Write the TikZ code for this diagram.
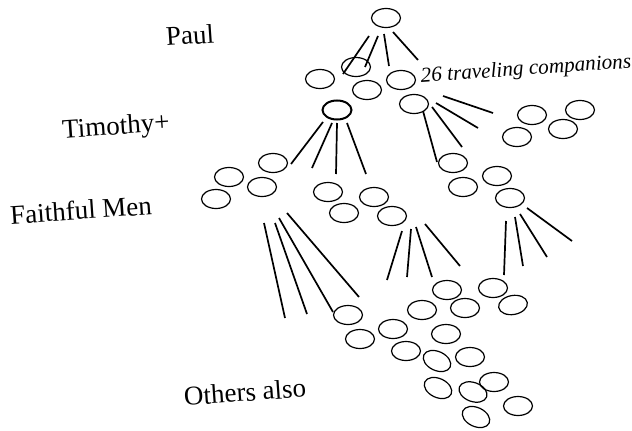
\documentclass[tikz,border=0pt]{standalone}
\usepackage{fontspec}
\setmainfont{Liberation Serif}
\usetikzlibrary{shapes.geometric}

\begin{document}
\begin{tikzpicture}[x=1pt,y=-1pt,
	pod/.style={ellipse,draw,line width=1.2pt,minimum width=29pt,minimum height=19pt,inner sep=0pt},
	lead/.style={pod,line width=2pt},
	spoke/.style={line width=1.7pt},
	level/.style={font=\fontsize{27}{32}\selectfont,rotate=4}]
	\useasboundingbox (0,0) rectangle (632,431);
	% labels
	\node[level] (lpaul) at (190,35) {Paul};
	\node[level] (ltim) at (116,128) {Timothy+};
	\node[level] (lfaith) at (81,210) {Faithful Men};
	\node[level] (lothers) at (245,392) {Others also};
	\node[level,font=\itshape\fontsize{21.2}{25}\selectfont] (lcomp) at (526,70) {26 traveling companions};
	% Paul and companions
	\node[pod] (paul) at (386,18) {};
	\node[pod] (c1) at (320,79) {};
	\node[pod] (c2) at (356,67) {};
	\node[pod] (c3) at (367,90) {};
	\node[pod] (c4) at (401,80) {};
	\node[pod] (c5) at (414,104) {};
	\node[lead] (tim) at (337,110) {};
	\node[pod] (c6) at (532,115) {};
	\node[pod] (c7) at (580,110) {};
	\node[pod] (c8) at (563,129) {};
	\node[pod] (c9) at (517,137) {};
	\draw[spoke] (369,36) -- (343,74);
	\draw[spoke] (378,36) -- (365,67);
	\draw[spoke] (384,34) -- (389,66);
	\draw[spoke] (393,32) -- (418,60);
	\draw[spoke] (443,96) -- (493,113);
	\draw[spoke] (436,103) -- (478,128);
	\draw[spoke] (432,107) -- (462,147);
	\draw[spoke] (423,111) -- (437,162);
	% faithful men
	\draw[spoke] (323,122) -- (291,164);
	\draw[spoke] (332,123) -- (312,168);
	\draw[spoke] (337,123) -- (336,174);
	\draw[spoke] (347,123) -- (366,174);
	\node[pod] (f1) at (273,163) {};
	\node[pod] (f2) at (229,177) {};
	\node[pod] (f3) at (262,187) {};
	\node[pod] (f4) at (216,199) {};
	\node[pod] (f5) at (328,192) {};
	\node[pod] (f6) at (344,213) {};
	\node[pod] (f7) at (374,197) {};
	\node[pod] (f8) at (392,216) {};
	\node[pod] (f9) at (453,163) {};
	\node[pod] (f10) at (463,187) {};
	\node[pod] (f11) at (497,176) {};
	\node[pod] (f12) at (510,198) {};
	% others
	\draw[spoke] (264,223) -- (285,318);
	\draw[spoke] (275,223) -- (307,314);
	\draw[spoke] (279,218) -- (333,312);
	\draw[spoke] (287,213) -- (359,297);
	\draw[spoke] (402,231) -- (387,280);
	\draw[spoke] (411,229) -- (407,277);
	\draw[spoke] (416,227) -- (432,277);
	\draw[spoke] (425,224) -- (460,266);
	\draw[spoke] (506,221) -- (504,275);
	\draw[spoke] (515,217) -- (523,266);
	\draw[spoke] (520,214) -- (547,257);
	\draw[spoke] (527,208) -- (572,241);
	\node[pod] (o1) at (348,315) {};
	\node[pod] (o2) at (360,339) {};
	\node[pod] (o3) at (393,329) {};
	\node[pod] (o4) at (406,351) {};
	\node[pod] (o5) at (422,310) {};
	\node[pod] (o6) at (447,290) {};
	\node[pod] (o7) at (465,308) {};
	\node[pod] (o8) at (446,334) {};
	\node[pod,rotate=-25] (o9) at (437,361) {};
	\node[pod] (o10) at (470,357) {};
	\node[pod] (o11) at (493,288) {};
	\node[pod,rotate=10] (o12) at (513,305) {};
	\node[pod,rotate=-25] (o13) at (438,388) {};
	\node[pod,rotate=-20] (o14) at (473,392) {};
	\node[pod] (o15) at (494,382) {};
	\node[pod] (o16) at (518,406) {};
	\node[pod,rotate=-25] (o17) at (476,417) {};
\end{tikzpicture}
\end{document}
